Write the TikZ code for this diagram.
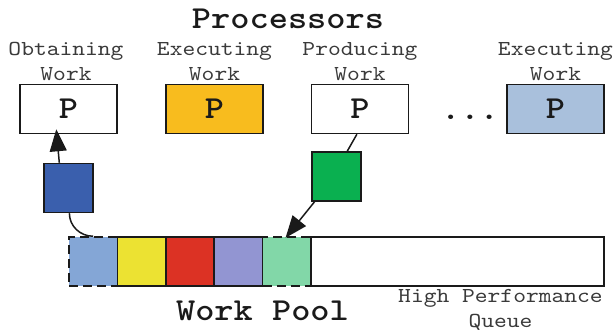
\documentclass[tikz,border=0pt]{standalone}
\usepackage{fontspec}
\usetikzlibrary{arrows.meta}

% typewriter faces, widened to a 0.6em advance
\newfontfamily\typeface{lmmono10-regular.otf}[FakeStretch=1.143]
\newfontfamily\typebold{lmmonolt10-bold.otf}[FakeStretch=1.143]

\definecolor{edge}{HTML}{1A1A1A}
\definecolor{labelgray}{HTML}{3A3A3A}
\definecolor{procyellow}{HTML}{F8BC1E}
\definecolor{procblue}{HTML}{A9C0DC}
\definecolor{taskblue}{HTML}{3A5FAD}
\definecolor{taskgreen}{HTML}{0AB050}
\definecolor{qblue}{HTML}{84A6D6}
\definecolor{qyellow}{HTML}{ECE232}
\definecolor{qred}{HTML}{DC3224}
\definecolor{qpurple}{HTML}{9295D2}
\definecolor{qgreen}{HTML}{82D7A8}

\tikzset{
  heading/.style={font=\typebold\fontsize{32}{32}\selectfont, text=edge, inner sep=0pt, anchor=base},
  caption/.style={font=\typeface\fontsize{21.3}{25}\selectfont, text=labelgray, inner sep=0pt, anchor=base, align=center},
  proc/.style={draw=edge, line width=1.5pt, minimum width=97pt, minimum height=49pt, inner sep=0pt,
    font=\typebold\fontsize{32}{32}\selectfont, text=edge},
  task/.style={draw=edge, line width=1.5pt, minimum width=49pt, minimum height=49pt, inner sep=0pt},
  cell/.style={draw=edge, line width=1.5pt, minimum width=48.4pt, minimum height=49pt, inner sep=0pt},
  loose/.style={cell, dash pattern=on 9pt off 5pt},
  link/.style={draw=edge, line width=1.5pt},
  flow/.style={link, -{Triangle[length=22pt,width=17pt]}},
}

\begin{document}
\begin{tikzpicture}[x=1pt, y=-1pt]
\useasboundingbox (0,0) rectangle (614,335);

% heading and processor states (anchored on the last line's baseline)
\node[heading] (title) at (288,28) {Processors};
\node[caption] (l1) at (66,80) {Obtaining\\Work};
\node[caption] (l2) at (214.5,80) {Executing\\Work};
\node[caption] (l3) at (360,80) {Producing\\Work};
\node[caption] (l4) at (555.5,80) {Executing\\Work};

% processors
\node[proc, fill=white] (p1) at (68.5,109) {P};
\node[proc, fill=procyellow] (p2) at (214.5,109) {P};
\node[proc, fill=white] (p3) at (360,109) {P};
\node[proc, fill=procblue] (p4) at (555.5,109) {P};
\node[heading] (dots) at (470,119.5) {...};

% tasks in transit
\node[task, fill=taskblue] (tb) at (68.5,188) {};
\node[task, fill=taskgreen] (tg) at (336.5,176.5) {};

% work pool queue
\node[loose, fill=qblue] (c1) at (93.2,261.5) {};
\node[loose, fill=qgreen] (c5) at (286.8,261.5) {};
\node[cell, fill=qyellow] (c2) at (141.6,261.5) {};
\node[cell, fill=qred] (c3) at (190,261.5) {};
\node[cell, fill=qpurple] (c4) at (238.4,261.5) {};
\node[cell, fill=white, minimum width=293pt] (rest) at (457.5,261.5) {};

\node[heading] (pool) at (262.5,320) {Work Pool};
\node[caption] (hpq) at (500.5,327) {High Performance\\Queue};

% connectors
\draw[flow, shorten >=-5pt] (tb.110) -- (p1.245);
\draw[link] (tb.-88) to[out=-90, in=180] (c1.north);
\draw[link] (p3.263) -- (tg.67);
\draw[flow, shorten >=-2pt] (tg.229) -- (c5.north);
\end{tikzpicture}
\end{document}
